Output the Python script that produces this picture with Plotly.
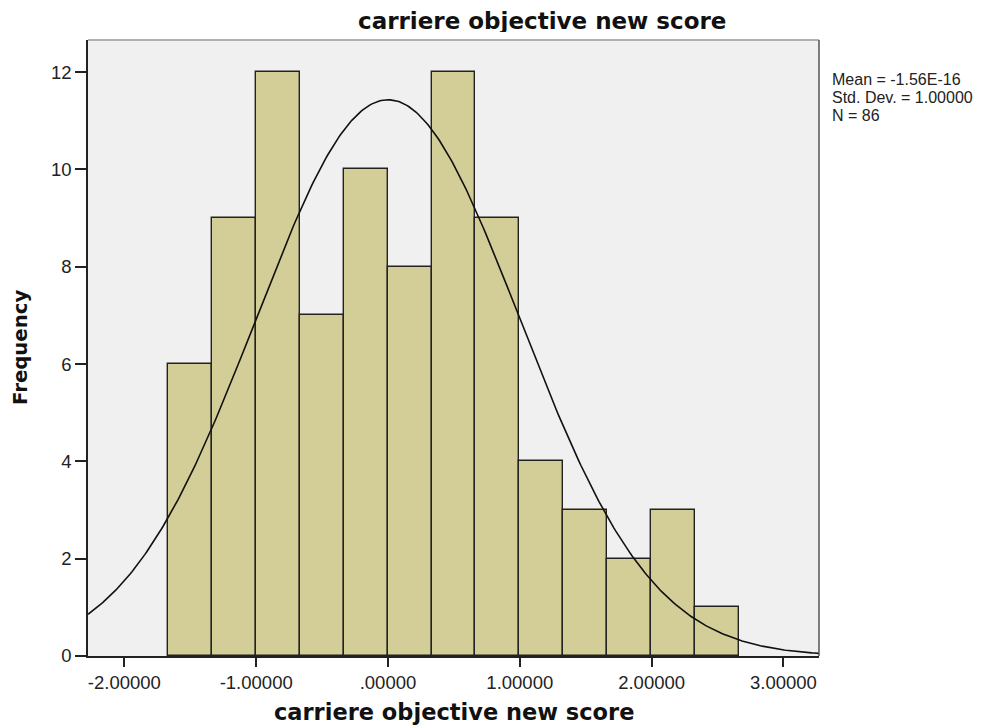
import numpy as np
import plotly.graph_objects as go

# Data
counts = [6, 9, 12, 7, 10, 8, 12, 9, 4, 3, 2, 3, 1]
bin_start = -1.669
bin_width = 0.3332
mean_val = -1.56e-16
std_val = 1.0
n_val = 86
x_tick_vals = [-2, -1, 0, 1, 2, 3]
x_tick_text = ["-2.00000", "-1.00000", ".00000", "1.00000", "2.00000", "3.00000"]
y_tick_vals = [0, 2, 4, 6, 8, 10, 12]
stats_lines = ["Mean = -1.56E-16", "Std. Dev. = 1.00000", "N = 86"]

x_range = [-2.276, 3.27]
y_range = [0, 12.66]

centers = [bin_start + bin_width * (i + 0.5) for i in range(len(counts))]

xs = np.linspace(x_range[0], x_range[1], 400)
ys = n_val * bin_width / (std_val * np.sqrt(2 * np.pi)) * np.exp(-0.5 * ((xs - mean_val) / std_val) ** 2)

fig = go.Figure()
fig.add_trace(go.Bar(
    x=centers, y=counts, width=[bin_width] * len(counts),
    marker=dict(color="#d3ce98", line=dict(color="#222222", width=1.4)),
    hoverinfo="x+y", showlegend=False,
))
fig.add_trace(go.Scatter(
    x=xs, y=ys, mode="lines", line=dict(color="#111111", width=1.6),
    showlegend=False, hoverinfo="skip",
))

tick_font = "Liberation Sans, Arial, sans-serif"
bold_font = "DejaVu Sans, Verdana, sans-serif"

W, H = 997, 720
L, R, T, B = 80, 186, 32, 72
PW, PH = W - L - R, H - T - B

annotations = [
    dict(text="<b>carriere objective new score</b>", xref="paper", yref="paper",
         x=(534 - L) / PW, y=1 + (T - 13) / PH, xanchor="center", yanchor="middle",
         showarrow=False, height=22, valign="middle",
         font=dict(size=23, family=bold_font, color="#111111")),
    dict(text="<b>carriere objective new score</b>", xref="paper", yref="paper",
         x=0.5, y=-(704 - (H - B)) / PH, xanchor="center", yanchor="middle",
         showarrow=False, font=dict(size=22.5, family=bold_font, color="#111111")),
    dict(text="<b>Frequency</b>", xref="paper", yref="paper",
         x=(12 - L) / PW, y=(H - B - 340) / PH, xanchor="center", yanchor="middle",
         textangle=-90, showarrow=False,
         font=dict(size=19.7, family=bold_font, color="#111111")),
]
for i, line in enumerate(stats_lines):
    annotations.append(dict(
        text=line, xref="paper", yref="paper",
        x=(822 - L) / PW, y=(H - B - (71 + 18.5 * i)) / PH,
        xanchor="left", yanchor="middle", align="left", showarrow=False,
        font=dict(size=16, family=tick_font, color="#222222"),
    ))

fig.update_layout(
    width=W, height=H,
    margin=dict(l=L, r=R, t=T, b=B, pad=0),
    paper_bgcolor="white",
    plot_bgcolor="#f0f0f0",
    bargap=0,
    font=dict(family=tick_font, size=17, color="#222222"),
    xaxis=dict(
        range=x_range, tickvals=x_tick_vals, ticktext=x_tick_text,
        ticks="outside", ticklen=9, tickcolor="#222222", tickwidth=1.5,
        showgrid=False, zeroline=False,
        showline=True, linecolor="#222222", linewidth=1.5, mirror=False,
        tickfont=dict(size=18.5, color="#222222"),
    ),
    yaxis=dict(
        range=y_range, tickvals=y_tick_vals,
        ticks="outside", ticklen=11, tickcolor="#222222", tickwidth=1.5,
        showgrid=False, zeroline=False,
        showline=True, linecolor="#222222", linewidth=1.5,
        tickfont=dict(size=18.5, color="#222222"),
    ),
    shapes=[
        dict(type="line", xref="paper", yref="paper", x0=0, x1=1, y0=1, y1=1,
             line=dict(color="#999999", width=1.5)),
        dict(type="line", xref="paper", yref="paper", x0=1, x1=1, y0=0, y1=1,
             line=dict(color="#555555", width=1.5)),
    ],
    annotations=annotations,
)

fig.write_html("out.html")
